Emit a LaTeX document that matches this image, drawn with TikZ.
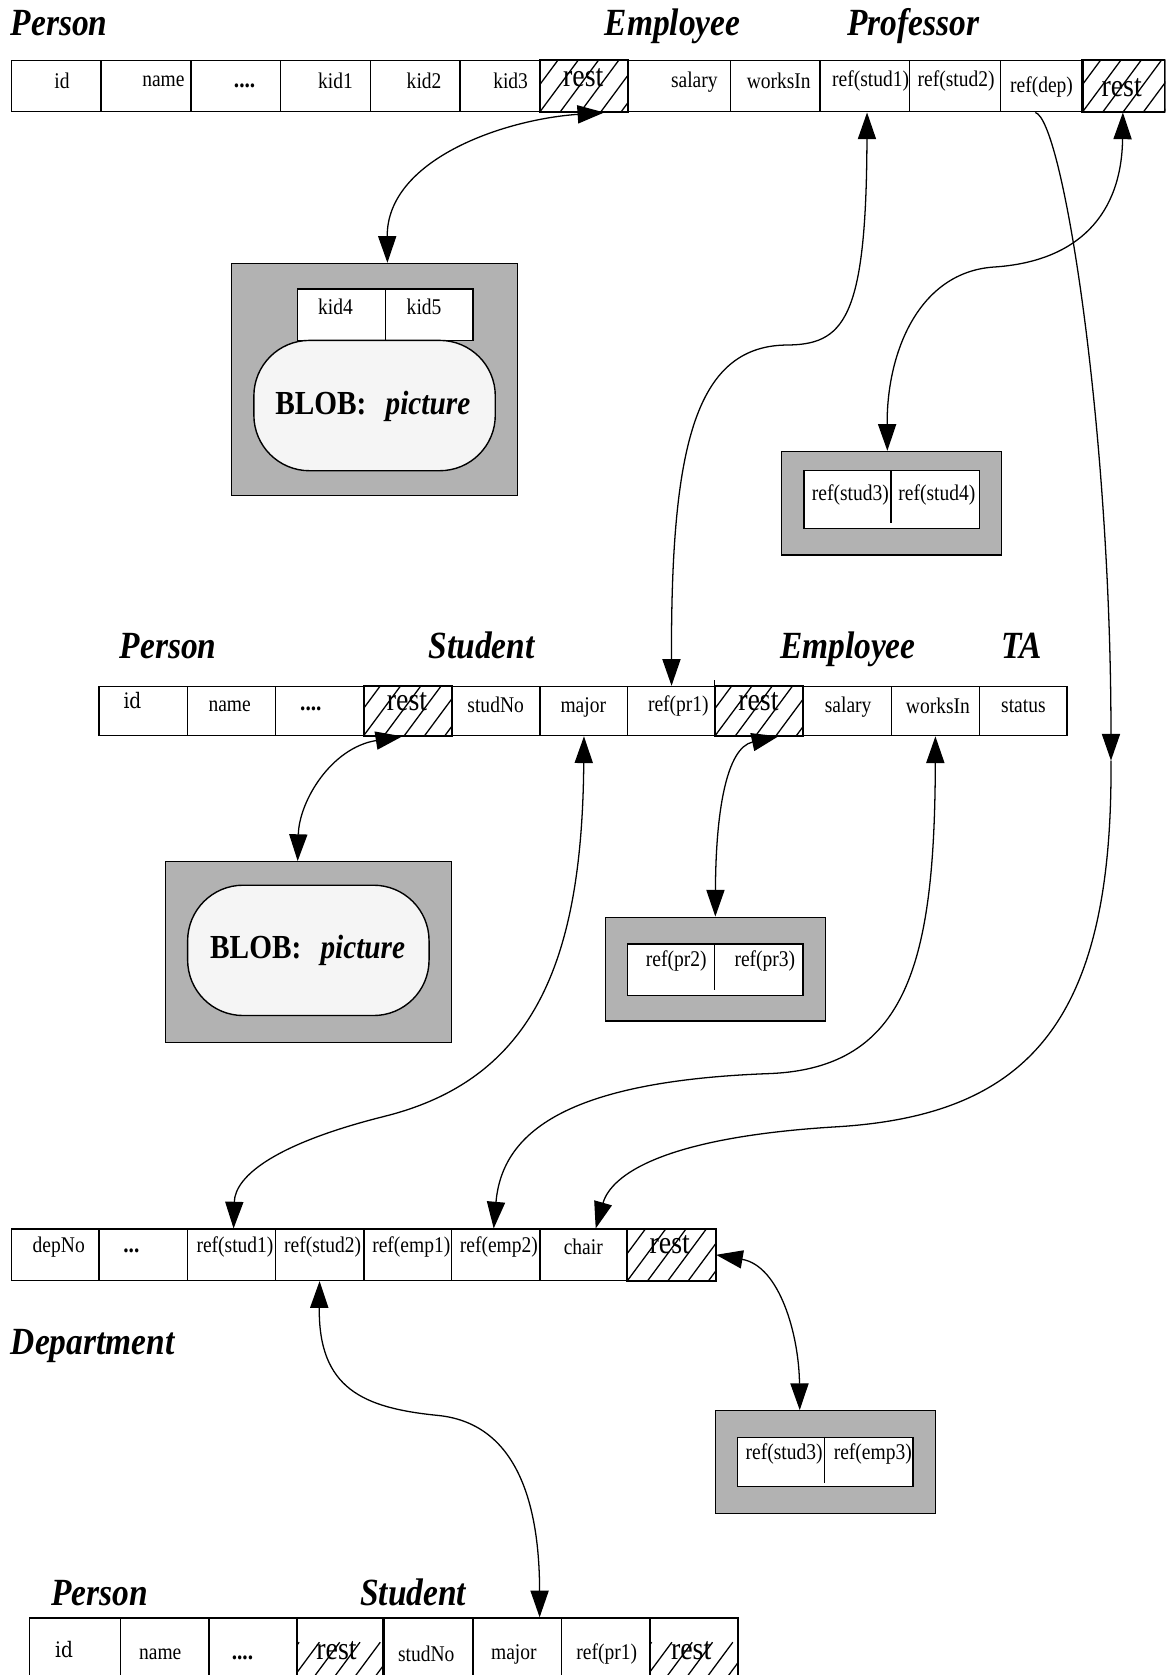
\documentclass[tikz,border=0pt]{standalone}
\usepackage{fontspec}
\setmainfont{Liberation Serif}[FakeStretch=0.87]
\newfontfamily\idfont{DejaVu Serif}[FakeStretch=0.87]
\usetikzlibrary{arrows.meta}

\definecolor{boxgray}{gray}{0.70}
\definecolor{blobfill}{gray}{0.96}

\tikzset{
  cellbox/.style={draw, line width=1.3pt, fill=white, inner sep=0pt, anchor=north west},
  graybox/.style={draw, line width=1.3pt, fill=boxgray, inner sep=0pt, anchor=north west},
  blobbox/.style={draw, line width=1.3pt, fill=blobfill, rounded corners=52pt, inner sep=0pt, anchor=north west},
  celltxt/.style={font=\fontsize{21}{24}\selectfont, inner sep=0pt},
  dotstxt/.style={font=\fontsize{23}{24}\selectfont\bfseries, inner sep=0pt},
  idtxt/.style={font=\idfont\fontsize{20}{22}\selectfont, inner sep=0pt},
  resttxt/.style={font=\fontsize{30}{32}\selectfont, inner sep=0pt},
  titletxt/.style={font=\fontsize{36}{40}\selectfont\bfseries\itshape, inner sep=0pt, anchor=base west},
  blobtxt/.style={font=\fontsize{31.5}{34}\selectfont\bfseries, inner sep=0pt},
  hatchline/.style={line width=1.2pt},
  link/.style={line width=1.2pt, {Triangle[length=25pt,width=17pt]}-{Triangle[length=25pt,width=17pt]}},
  linkend/.style={line width=1.2pt, -{Triangle[length=25pt,width=17pt]}},
}

% one table cell: name, left x, right x, top y, bottom y
\newcommand\cellat[5]{%
  \node[cellbox, minimum width={#3-#2}, minimum height={#5-#4}] (#1) at (#2,#4) {};}
% a gray frame: name, left x, right x, top y, bottom y
\newcommand\frameat[5]{%
  \node[graybox, minimum width={#3-#2}, minimum height={#5-#4}] (#1) at (#2,#4) {};}
% diagonal hatching inside a cell
\newcommand\hatch[1]{%
  \begin{scope}
    \clip (#1.south west) rectangle (#1.north east);
    \foreach \k in {-2,...,5}{\draw[hatchline] ([xshift=\k*19pt]#1.south west) -- ++(40,-54);}
  \end{scope}
  \draw[line width=1.3pt] (#1.south west) rectangle (#1.north east);}

\begin{document}
\begin{tikzpicture}[x=1pt,y=-1pt]
\clip (0,0) rectangle (1091,1568);
\fill[white] (0,0) rectangle (1091,1568);

% ---------------- Professor record ----------------
\node[titletxt] (t1a) at (10,33) {Person};
\node[titletxt] (t1b) at (566,33) {Employee};
\node[titletxt] (t1c) at (793,33) {Professor};

\cellat{r1id}{10}{94}{56}{104}
\cellat{r1name}{94}{178}{56}{104}
\cellat{r1dots}{178}{262}{56}{104}
\cellat{r1kid1}{262}{346}{56}{104}
\cellat{r1kid2}{346}{430}{56}{104}
\cellat{r1kid3}{430}{505}{56}{104}
\cellat{r1rest}{505}{587}{56}{104}
\cellat{r1sal}{587}{683}{56}{104}
\cellat{r1works}{683}{767}{56}{104}
\cellat{r1st1}{767}{851}{56}{104}
\cellat{r1st2}{851}{936}{56}{104}
\cellat{r1dep}{936}{1013}{56}{104}
\cellat{r1rest2}{1013}{1090}{56}{104}
\hatch{r1rest}
\hatch{r1rest2}

\node[celltxt] (r1idT) at (58,76) {id};
\node[celltxt] (r1nameT) at (153,76) {name};
\node[dotstxt] (r1dotsT) at (229,80) {....};
\node[celltxt] (r1kid1T) at (314,76) {kid1};
\node[celltxt] (r1kid2T) at (397,76) {kid2};
\node[celltxt] (r1kid3T) at (478,76) {kid3};
\node[resttxt] (r1restT) at (546,73) {rest};
\node[celltxt] (r1salT) at (650,77) {salary};
\node[celltxt] (r1worksT) at (729,76) {worksIn};
\node[celltxt] (r1st1T) at (815,76) {ref(stud1)};
\node[celltxt] (r1st2T) at (895,76) {ref(stud2)};
\node[celltxt] (r1depT) at (975,81) {ref(dep)};
\node[resttxt] (r1rest2T) at (1050,82) {rest};

% overflow of the Professor record: kids and picture
\frameat{blob1box}{216}{484}{246}{463}
\cellat{k4}{278}{360}{270}{318}
\cellat{k5}{360}{442}{270}{318}
\node[celltxt] (k4T) at (314,287) {kid4};
\node[celltxt] (k5T) at (397,287) {kid5};
\node[blobbox, minimum width=226, minimum height=122] (blob1) at (237,318) {};
\node[blobtxt] (blob1T) at (349,380) {BLOB:\hspace{18pt}\textit{picture}};

% overflow of the Professor record: more student references
\frameat{stud34box}{731}{937}{422}{519}
\cellat{stud34}{752}{916}{440}{494}
\draw[line width=1.3pt] (834,440) -- (834,490);
\node[celltxt] (st3T) at (796,463) {ref(stud3)};
\node[celltxt] (st4T) at (877,463) {ref(stud4)};

% ---------------- TA record ----------------
\node[titletxt] (t2a) at (112,616) {Person};
\node[titletxt] (t2b) at (401,616) {Student};
\node[titletxt] (t2c) at (730,616) {Employee};
\node[titletxt] (t2d) at (937,616) {TA};

\cellat{r2id}{92}{175}{642}{688}
\cellat{r2name}{175}{257}{642}{688}
\cellat{r2dots}{257}{340}{642}{688}
\cellat{r2rest}{340}{422}{642}{688}
\cellat{r2stno}{422}{505}{642}{688}
\cellat{r2major}{505}{587}{642}{688}
\cellat{r2pr1}{587}{669}{642}{688}
\cellat{r2rest2}{669}{751}{642}{688}
\cellat{r2sal}{751}{834}{642}{688}
\cellat{r2works}{834}{916}{642}{688}
\cellat{r2status}{916}{998}{642}{688}
\hatch{r2rest}
\hatch{r2rest2}
\draw[line width=1.1pt] (r2rest2.north west) -- ++(0,-5);

\node[idtxt] (r2idT) at (124,656) {id};
\node[celltxt] (r2nameT) at (215,661) {name};
\node[dotstxt] (r2dotsT) at (291,664) {....};
\node[resttxt] (r2restT) at (381,657) {rest};
\node[celltxt] (r2stnoT) at (464,660) {studNo};
\node[celltxt] (r2majorT) at (546,662) {major};
\node[celltxt] (r2pr1T) at (635,661) {ref(pr1)};
\node[resttxt] (r2rest2T) at (710,657) {rest};
\node[celltxt] (r2salT) at (794,662) {salary};
\node[celltxt] (r2worksT) at (878,661) {worksIn};
\node[celltxt] (r2statusT) at (958,661) {status};

% overflow of the TA record
\frameat{blob2box}{154}{422}{806}{975}
\node[blobbox, minimum width=226, minimum height=122] (blob2) at (175,828) {};
\node[blobtxt] (blob2T) at (288,890) {BLOB:\hspace{18pt}\textit{picture}};

\frameat{prbox}{566}{772}{858}{955}
\cellat{pr23}{587}{751}{883}{931}
\draw[line width=1.3pt] (669,883) -- (669,927);
\node[celltxt] (pr2T) at (633,900) {ref(pr2)};
\node[celltxt] (pr3T) at (716,900) {ref(pr3)};

% ---------------- Department record ----------------
\node[titletxt] (t3a) at (10,1268) {Department};

\cellat{dno}{10}{92}{1150}{1198}
\cellat{ddots}{92}{175}{1150}{1198}
\cellat{dst1}{175}{257}{1150}{1198}
\cellat{dst2}{257}{340}{1150}{1198}
\cellat{demp1}{340}{422}{1150}{1198}
\cellat{demp2}{422}{505}{1150}{1198}
\cellat{dchair}{505}{587}{1150}{1198}
\cellat{drest}{587}{669}{1150}{1198}
\hatch{drest}

\node[celltxt] (dnoT) at (55,1167) {depNo};
\node[dotstxt] (ddotsT) at (123,1171) {...};
\node[celltxt] (dst1T) at (220,1167) {ref(stud1)};
\node[celltxt] (dst2T) at (302,1167) {ref(stud2)};
\node[celltxt] (demp1T) at (385,1167) {ref(emp1)};
\node[celltxt] (demp2T) at (467,1167) {ref(emp2)};
\node[celltxt] (dchairT) at (546,1167) {chair};
\node[resttxt] (drestT) at (627,1165) {rest};

\frameat{empbox}{669}{875}{1320}{1416}
\cellat{emp3}{690}{854}{1345}{1391}
\draw[line width=1.3pt] (772,1345) -- (772,1388);
\node[celltxt] (dst3T) at (734,1361) {ref(stud3)};
\node[celltxt] (demp3T) at (817,1361) {ref(emp3)};

% ---------------- Student record ----------------
\node[titletxt] (t4a) at (48,1503) {Person};
\node[titletxt] (t4b) at (337,1503) {Student};

\cellat{r4id}{27}{112}{1514}{1590}
\cellat{r4name}{112}{195}{1514}{1590}
\cellat{r4dots}{195}{278}{1514}{1590}
\cellat{r4rest}{278}{358}{1514}{1590}
\cellat{r4stno}{358}{442}{1514}{1590}
\cellat{r4major}{442}{525}{1514}{1590}
\cellat{r4pr1}{525}{608}{1514}{1590}
\cellat{r4rest2}{608}{690}{1514}{1590}
\hatch{r4rest}
\hatch{r4rest2}

\node[idtxt] (r4idT) at (60,1544) {id};
\node[celltxt] (r4nameT) at (150,1549) {name};
\node[dotstxt] (r4dotsT) at (227,1552) {....};
\node[resttxt] (r4restT) at (315,1545) {rest};
\node[celltxt] (r4stnoT) at (399,1548) {studNo};
\node[celltxt] (r4majorT) at (481,1549) {major};
\node[celltxt] (r4pr1T) at (568,1548) {ref(pr1)};
\node[resttxt] (r4rest2T) at (647,1545) {rest};

% ---------------- references ----------------
\draw[link] ([xshift=19pt]r1rest.south) .. controls (470,112) and (362,150) .. ([xshift=12pt]blob1box.north);
\draw[link] ([xshift=2pt]r1st1.south) .. controls (811,300) and (790,323) .. (735,323)
            .. controls (650,325) and (628,420) .. (r2pr1.north);
\coordinate (depmid) at (1040,712);
\draw[linkend] ([xshift=-6pt]r1dep.south) .. controls (995,112) and (1040,400) .. (depmid);
\draw[linkend] (depmid) .. controls (1042,960) and (960,1045) .. (780,1055)
            .. controls (620,1065) and (572,1100) .. ([xshift=11pt]dchair.north);
\draw[link] ([xshift=-1pt]r1rest2.south) .. controls (1050,200) and (1010,245) .. (930,250)
            .. controls (860,255) and (830,330) .. ([xshift=-4pt]stud34box.north);
\draw[link] ([xshift=-5pt]r2rest.south) .. controls (310,700) and (280,750) .. ([xshift=-10pt]blob2box.north);
\draw[link] (r2major.south) .. controls (545,900) and (500,1010) .. (360,1045)
            .. controls (260,1070) and (220,1100) .. ([xshift=2pt]dst1.north);
\draw[link] ([xshift=18pt]r2rest2.south) .. controls (680,700) and (670,760) .. (prbox.north);
\draw[link] (r2works.south) .. controls (875,900) and (850,1000) .. (720,1005)
            .. controls (530,1012) and (470,1060) .. ([xshift=-2pt]demp2.north);
\draw[link] (drest.east) .. controls (730,1185) and (748,1250) .. ([xshift=-24pt]empbox.north);
\draw[link] (dst2.south) .. controls (298,1300) and (340,1318) .. (410,1325)
            .. controls (480,1332) and (505,1400) .. ([xshift=21pt]r4major.north);
\end{tikzpicture}
\end{document}
